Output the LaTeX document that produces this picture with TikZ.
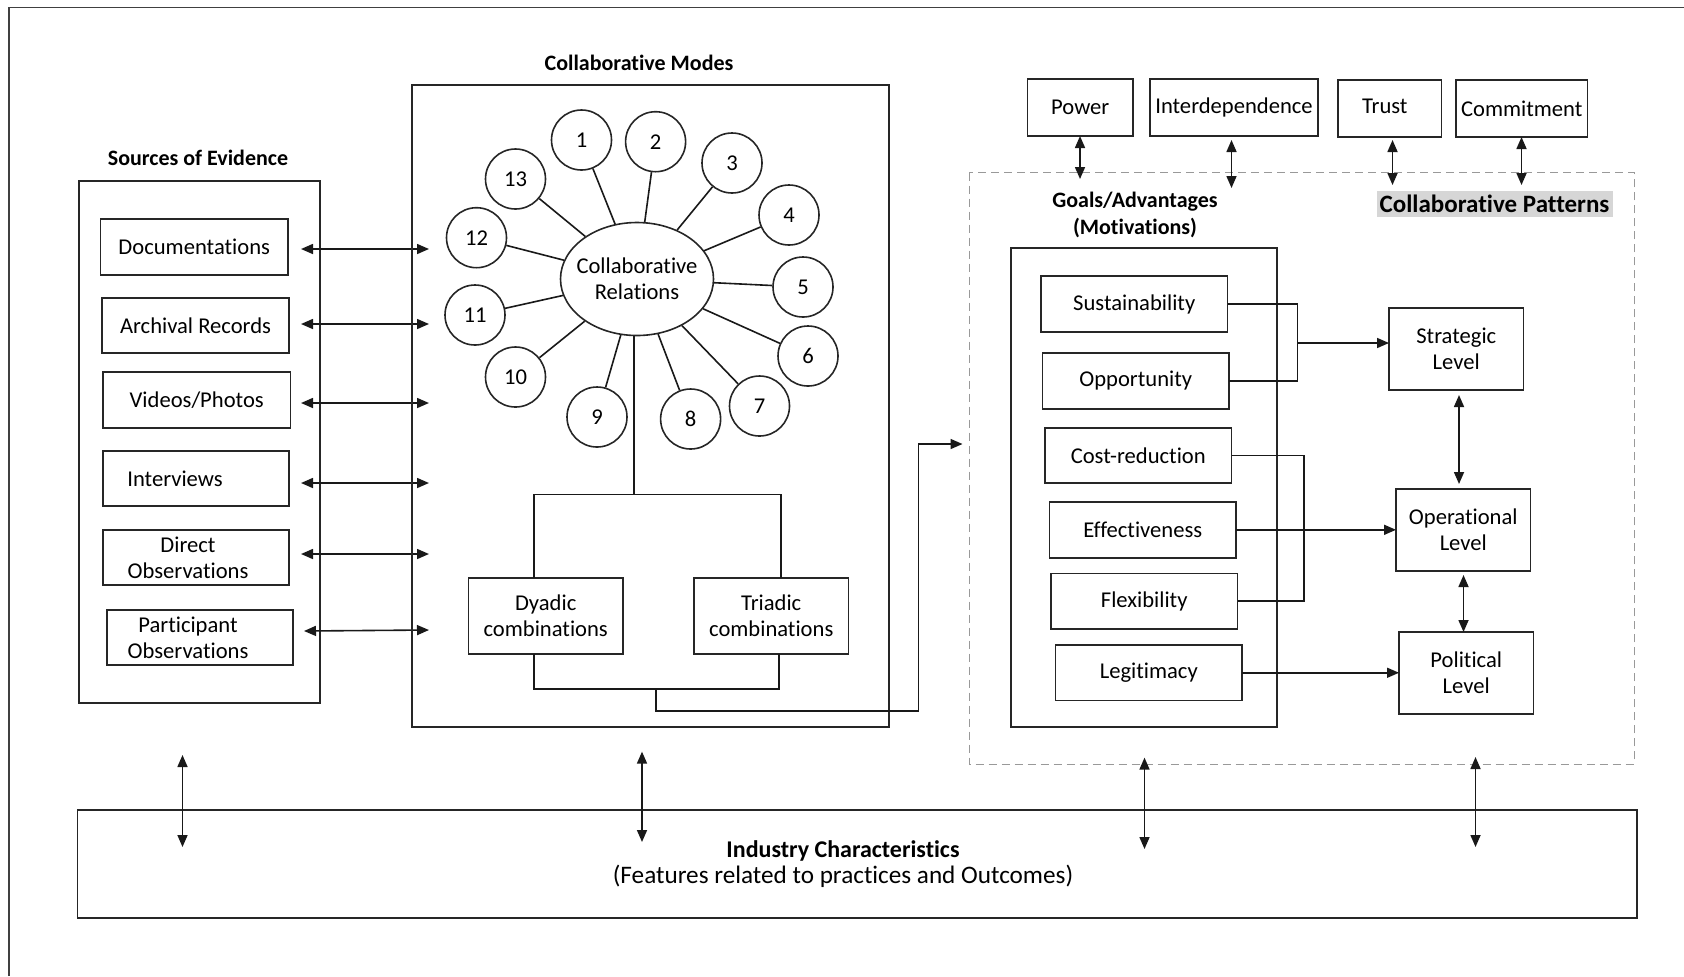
\documentclass[tikz,border=0pt]{standalone}
\usepackage{fontspec}
\setmainfont{Carlito}[Ligatures={NoCommon}]
\usetikzlibrary{arrows.meta,shapes.geometric}

\newcommand{\boxfont}{\fontsize{11.3}{13}\selectfont}

\tikzset{
  box/.style={draw=black!85, line width=0.9pt, inner sep=0pt, outer sep=0pt,
    align=center, font=\boxfont},
  num/.style={draw=black!85, line width=0.8pt, circle, minimum size=30pt, inner sep=0pt,
    font=\boxfont},
  hub/.style={draw=black!85, line width=0.8pt, ellipse, minimum width=76.5pt,
    minimum height=56.5pt, inner sep=0pt},
  heading/.style={font=\bfseries\fontsize{11}{13.5}\selectfont, align=center},
  inlabel/.style={font=\boxfont, align=center},
  link/.style={draw=black!90, line width=0.8pt},
  tip/.style={link, -{Triangle[length=6pt,width=5pt]}},
  dtip/.style={link, {Triangle[length=6pt,width=5pt]}-{Triangle[length=6pt,width=5pt]}},
  dashbox/.style={draw=black!40, line width=0.5pt, dash pattern=on 4pt off 2.5pt},
  frameline/.style={draw=black!75, line width=0.8pt},
}

% rectangle node from its corners: [options]{x1}{y1}{x2}{y2}{name}{text}
\newcommand{\placebox}[7][]{%
  \node[box,#1,minimum width={(#4-#2)*0.5pt},minimum height={(#5-#3)*0.5pt}]
    (#6) at ({(#2+#4)/2},{(#3+#5)/2}) {#7};}

\begin{document}
\begin{tikzpicture}[x=0.5pt,y=-0.5pt]
\useasboundingbox (0,0) rectangle (1684,976);

% outer frame
\draw[frameline] (9,976) -- (9,7.5) -- (1684,7.5);

% ---------------- sources of evidence ----------------
\node[heading] (srctitle) at (198,158) {Sources of Evidence};
\placebox{79}{181}{320}{703}{srcbox}{}
\placebox{100.5}{219}{288}{275}{doc}{Documentations}
\placebox{102}{298}{289}{353}{arch}{Archival Records}
\placebox{103}{372}{290.5}{428}{vid}{Videos/Photos}
\placebox[label={[inlabel,xshift=-10.5pt]center:Interviews}]{103}{451}{289}{506}{intv}{}
\placebox[label={[inlabel,xshift=-4pt]center:Direct\\Observations}]{103}{530}{289}{585}{dobs}{}
\placebox[label={[inlabel,xshift=-6pt]center:Participant\\Observations}]{107}{610}{293}{665}{pobs}{}

% links between sources and modes
\coordinate (s1) at (301,249);   \coordinate (t1) at (429,249);
\coordinate (s2) at (301,324);   \coordinate (t2) at (429,324);
\coordinate (s3) at (301,403);   \coordinate (t3) at (429,403);
\coordinate (s4) at (301,483);   \coordinate (t4) at (429,483);
\coordinate (s5) at (301,554);   \coordinate (t5) at (429,554);
\coordinate (s6) at (304,631);   \coordinate (t6) at (429,630);
\foreach \k in {1,...,6} \draw[dtip] (s\k) -- (t\k);

% ---------------- collaborative modes ----------------
\node[heading] (modetitle) at (639,63) {Collaborative Modes};
\placebox{411.6}{85}{889}{727}{modes}{}
\node[hub, label={[inlabel]center:Collaborative\\Relations}] (rel) at (637,279) {};

\node[num] (c1)  at (581.5,140) {1};
\node[num] (c2)  at (655.6,141.7) {2};
\node[num] (c3)  at (732,163) {3};
\node[num] (c4)  at (789,215) {4};
\node[num] (c5)  at (803,287) {5};
\node[num] (c6)  at (808,356) {6};
\node[num] (c7)  at (759.5,406) {7};
\node[num] (c8)  at (690.6,419) {8};
\node[num] (c9)  at (597,417) {9};
\node[num] (c10) at (515.5,377) {10};
\node[num] (c11) at (475,315) {11};
\node[num] (c12) at (476.5,237.7) {12};
\node[num] (c13) at (515.5,179) {13};
\foreach \i in {1,...,13} \draw[link] (rel) -- (c\i);

\placebox{468.4}{578}{623}{654}{dy}{Dyadic\\combinations}
\placebox{694}{578}{848.5}{654}{tr}{Triadic\\combinations}

% tree from the hub to the two combinations
\coordinate (barM) at (634,494.5);
\coordinate (barL) at (534,494.5);
\coordinate (barR) at (781,494.5);
\draw[link] (rel.south -| barM) -- (barM);
\draw[link] (dy.north -| barL) -- (barL) -- (barR) -- (tr.north -| barR);

% joint output of the combinations
\coordinate (lowL) at (534,689);
\coordinate (lowR) at (779,689);
\coordinate (m0) at (656,689);
\coordinate (m1) at (918.5,711);
\coordinate (m2) at (962.5,444);
\draw[link] (dy.south -| lowL) -- (lowL) -- (lowR) -- (tr.south -| lowR);
\draw[tip] (m0) |- (m1) |- (m2);

% ---------------- collaborative patterns ----------------
\placebox{1027.5}{79}{1133}{136}{pow}{Power}
\placebox{1150}{79}{1318}{136}{intd}{Interdependence}
\placebox[label={[inlabel,xshift=-2.5pt,yshift=1.2pt]center:Trust}]{1338}{80}{1441.5}{137}{trust}{}
\placebox{1456}{80}{1587.5}{137}{comm}{Commitment}

\draw[dashbox] (969,172.7) rectangle (1634,764);

\coordinate (q1) at (1080,179);
\coordinate (q2) at (1231.5,188);
\coordinate (q3) at (1392.5,185);
\coordinate (q4) at (1521.5,185);
\draw[dtip] (pow.south -| q1) -- (q1);
\draw[dtip, shorten <=2pt] (intd.south -| q2) -- (q2);
\draw[dtip, shorten <=1.5pt] (trust.south -| q3) -- (q3);
\draw[dtip] (comm.south -| q4) -- (q4);

\node[heading] (goaltitle) at (1135,214.5) {Goals/Advantages\\(Motivations)};
\node[fill=black!16, inner sep=0pt, minimum width=118pt, minimum height=13pt,
      font=\bfseries\fontsize{12.5}{14}\selectfont] (patt) at (1494.5,204) {Collaborative Patterns};

\placebox{1011}{248}{1277}{727}{goals}{}
\placebox{1041}{276}{1227.5}{332}{sus}{Sustainability}
\placebox{1042.5}{353}{1229}{409}{opp}{Opportunity}
\placebox{1045}{428}{1231.5}{483}{cost}{Cost-reduction}
\placebox{1049.5}{502}{1236}{557.6}{eff}{Effectiveness}
\placebox{1051}{573.5}{1237.5}{629}{flex}{Flexibility}
\placebox{1055.5}{645}{1242}{700.5}{leg}{Legitimacy}

\placebox{1389}{308}{1523.5}{390}{strat}{Strategic\\Level}
\placebox{1396}{489}{1530.5}{571}{oper}{Operational\\Level}
\placebox{1399}{632}{1533.5}{713.6}{pol}{Political\\Level}

% goals to levels
\coordinate (j1) at (1297.5,343);
\coordinate (j2) at (1304,455.5);
\draw[link] (sus.east) -- (sus.east -| j1) -- (opp.east -| j1) -- (opp.east);
\draw[tip] (j1) -- (strat.west |- j1);
\draw[link] (cost.east) -- (cost.east -| j2) -- (flex.east -| j2) -- (flex.east);
\draw[tip] (eff.east) -- (oper.west |- eff.east);
\draw[tip] (leg.east) -- (pol.west |- leg.east);

\coordinate (k1) at (1459,0);
\coordinate (k2) at (1463.5,0);
\draw[dtip, shorten <=2.5pt, shorten >=2.5pt] (strat.south -| k1) -- (oper.north -| k1);
\draw[dtip, shorten <=2pt] (oper.south -| k2) -- (pol.north -| k2);

% ---------------- industry characteristics ----------------
\placebox{77.5}{810}{1637}{918}{ind}{}
\node[align=center, font=\fontsize{12.6}{13.3}\selectfont] (indtext) at (843,864)
  {{\fontsize{12}{13.3}\selectfont\bfseries Industry Characteristics}\\(Features related to practices and Outcomes)};

\coordinate (b1a) at (182.5,755);  \coordinate (b1b) at (182.5,847);
\coordinate (b2a) at (642,751.6);  \coordinate (b2b) at (642,842);
\coordinate (b3a) at (1144.5,757.6); \coordinate (b3b) at (1144.5,849);
\coordinate (b4a) at (1475.5,757); \coordinate (b4b) at (1475.5,847);
\foreach \k in {1,...,4} \draw[dtip] (b\k a) -- (b\k b);

\end{tikzpicture}
\end{document}
